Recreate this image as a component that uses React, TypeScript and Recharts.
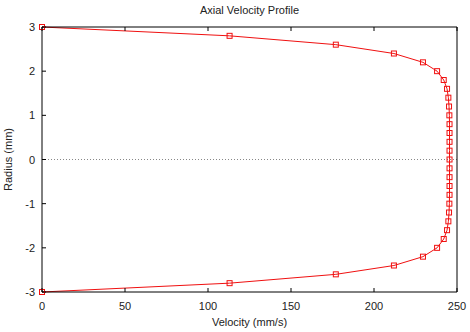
import React from 'react';
import { LineChart, Line, XAxis, YAxis, ReferenceLine, Label } from 'recharts';

const radius = [
  3, 2.8, 2.6, 2.4, 2.2, 2.0, 1.8, 1.6, 1.4, 1.2, 1.0, 0.8, 0.6, 0.4, 0.2, 0,
  -0.2, -0.4, -0.6, -0.8, -1.0, -1.2, -1.4, -1.6, -1.8, -2.0, -2.2, -2.4, -2.6, -2.8, -3,
];
const velocity = [
  0, 113, 177, 212, 229.5, 238, 242, 244, 244.8, 245.2, 245.4, 245.5, 245.5, 245.5, 245.5, 245.5,
  245.5, 245.5, 245.5, 245.5, 245.4, 245.2, 244.8, 244, 242, 238, 229.5, 212, 177, 113, 0,
];
const velocityTicks = [0, 50, 100, 150, 200, 250];
const radiusTicks = [-3, -2, -1, 0, 1, 2, 3];

const data = radius.map((r, i) => ({ radius: r, velocity: velocity[i] }));

const FONT = '"Liberation Sans", Arial, sans-serif';
const TEXT = '#222';
const RED = '#f01010';
const TICK = 4;

const BottomTick = ({ x, y, payload }: any) => (
  <g>
    <line x1={x} y1={y} x2={x} y2={y - TICK} stroke="#000" />
    <text x={x} y={y + 17.5} textAnchor="middle" fontSize={11} fontFamily={FONT} fill={TEXT}>
      {payload.value}
    </text>
  </g>
);

const TopTick = ({ x, y }: any) => <line x1={x} y1={y} x2={x} y2={y + TICK} stroke="#000" />;

const LeftTick = ({ x, y, payload }: any) => (
  <g>
    <line x1={x} y1={y} x2={x + TICK} y2={y} stroke="#000" />
    <text x={x - 7} y={y + 4} textAnchor="end" fontSize={11} fontFamily={FONT} fill={TEXT}>
      {payload.value}
    </text>
  </g>
);

const RightTick = ({ x, y }: any) => <line x1={x} y1={y} x2={x - TICK} y2={y} stroke="#000" />;

const SquareDot = ({ cx, cy, index }: any) => (
  <rect key={index} x={cx - 2.5} y={cy - 2.5} width={5} height={5} fill="none" stroke={RED} strokeWidth={1} />
);

export default function App() {
  return (
    <div style={{ position: 'absolute', left: 0, top: 0, width: 470, height: 332, background: '#fff' }}>
      <LineChart width={470} height={332} data={data} margin={{ top: 0, right: 0, bottom: 0, left: 0 }}>
        <XAxis
          xAxisId="bottom"
          dataKey="velocity"
          type="number"
          domain={[0, 250]}
          ticks={velocityTicks}
          height={40}
          tickSize={0}
          tickMargin={0}
          tickLine={false}
          tick={<BottomTick />}
          axisLine={{ stroke: '#000' }}
          interval={0}
        >
          <Label
            content={({ viewBox }: any) => (
              <text
                x={viewBox.x + viewBox.width / 2}
                y={viewBox.y + viewBox.height - 6}
                textAnchor="middle"
                fontSize={11}
                fontFamily={FONT}
                fill={TEXT}
              >
                Velocity (mm/s)
              </text>
            )}
          />
        </XAxis>
        <XAxis
          xAxisId="top"
          orientation="top"
          type="number"
          dataKey="velocity"
          domain={[0, 250]}
          ticks={velocityTicks}
          height={27}
          tickSize={0}
          tickMargin={0}
          tickLine={false}
          tick={<TopTick />}
          axisLine={{ stroke: '#000' }}
          interval={0}
        >
          <Label
            content={({ viewBox }: any) => (
              <text
                x={viewBox.x + viewBox.width / 2}
                y={13.5}
                textAnchor="middle"
                fontSize={11}
                fontFamily={FONT}
                fill={TEXT}
              >
                Axial Velocity Profile
              </text>
            )}
          />
        </XAxis>
        <YAxis
          yAxisId="left"
          type="number"
          domain={[-3, 3]}
          ticks={radiusTicks}
          width={42}
          tickSize={0}
          tickMargin={0}
          tickLine={false}
          tick={<LeftTick />}
          axisLine={{ stroke: '#000' }}
          interval={0}
        >
          <Label
            content={({ viewBox }: any) => {
              const cx = viewBox.x + 12;
              const cy = viewBox.y + viewBox.height / 2;
              return (
                <text
                  x={cx}
                  y={cy}
                  transform={`rotate(-90 ${cx} ${cy})`}
                  textAnchor="middle"
                  fontSize={11}
                  fontFamily={FONT}
                  fill={TEXT}
                >
                  Radius (mm)
                </text>
              );
            }}
          />
        </YAxis>
        <YAxis
          yAxisId="right"
          orientation="right"
          type="number"
          domain={[-3, 3]}
          ticks={radiusTicks}
          width={13}
          tickSize={0}
          tickMargin={0}
          tickLine={false}
          tick={<RightTick />}
          axisLine={{ stroke: '#000' }}
          interval={0}
        />
        <ReferenceLine xAxisId="bottom" yAxisId="left" y={0} stroke="#888" strokeDasharray="1 2" />
        <Line
          xAxisId="bottom"
          yAxisId="left"
          dataKey="radius"
          stroke={RED}
          strokeWidth={1}
          dot={<SquareDot />}
          activeDot={false}
          isAnimationActive={false}
        />
      </LineChart>
    </div>
  );
}
